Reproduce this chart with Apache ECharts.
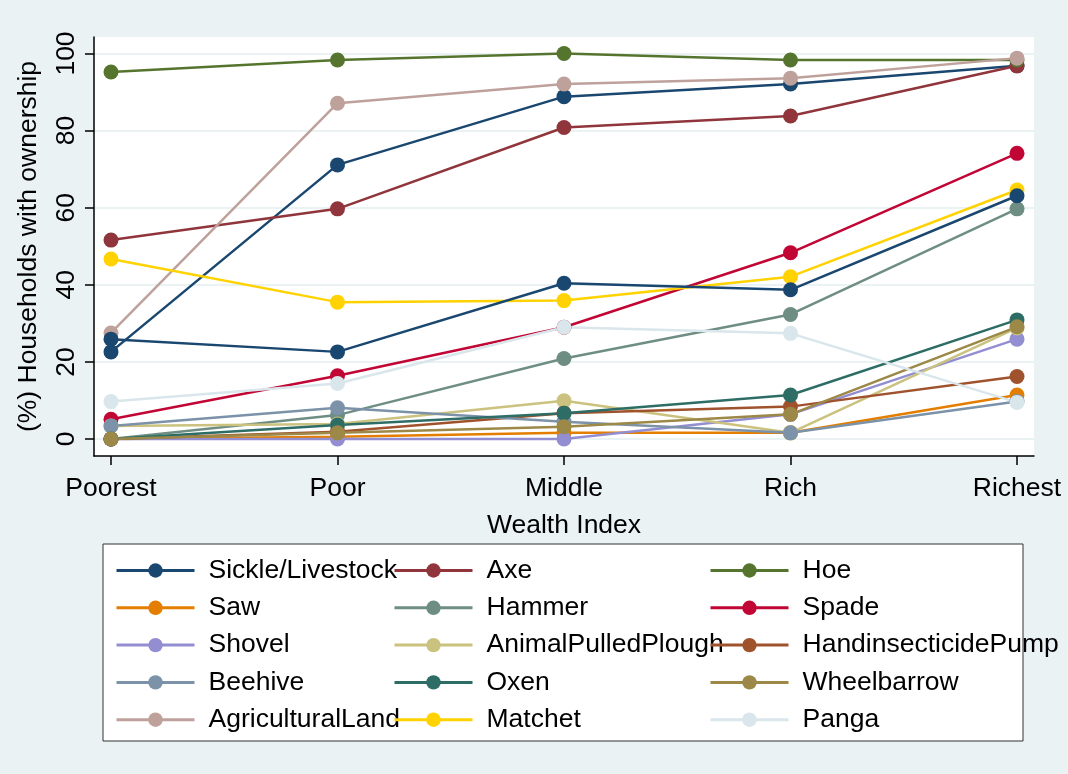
<!DOCTYPE html>
<html>
<head>
<meta charset="utf-8">
<script src="https://cdn.jsdelivr.net/npm/echarts@6/dist/echarts.min.js"></script>
<style>html,body{margin:0;padding:0;background:#fff}#c{width:1068px;height:774px}</style>
</head>
<body>
<div id="c"></div>
<script>
const categories = ['Poorest', 'Poor', 'Middle', 'Rich', 'Richest'];
const yTicks = [0, 20, 40, 60, 80, 100];

const sickle      = [22.6, 71.1, 88.8, 92.1, 96.8];
const axe         = [51.6, 59.7, 80.8, 83.8, 96.8];
const hoe         = [95.2, 98.3, 100.0, 98.3, 98.3];
const saw         = [0.0, 0.6, 1.6, 1.6, 11.4];
const hammer      = [0.0, 6.2, 20.9, 32.3, 59.7];
const spade       = [5.1, 16.4, 29.0, 48.3, 74.1];
const shovel      = [0.0, 0.0, 0.0, 6.4, 25.9];
const plough      = [3.4, 3.9, 9.9, 1.6, 28.8];
const pump        = [0.0, 1.9, 6.7, 8.4, 16.2];
const beehive     = [3.4, 8.1, 4.5, 1.6, 9.7];
const oxen        = [0.0, 3.6, 6.7, 11.4, 30.9];
const wheelbarrow = [0.0, 1.6, 3.2, 6.4, 29.1];
const agland      = [27.5, 87.1, 92.1, 93.6, 98.8];
const matchet     = [46.7, 35.5, 35.9, 42.1, 64.6];
const panga       = [9.7, 14.4, 29.0, 27.4, 9.5];
const livestock   = [25.9, 22.6, 40.4, 38.7, 63.1];

const seriesDefs = [
  ['Sickle/Livestock', sickle, '#1A476F'],
  ['Axe', axe, '#90353B'],
  ['Hoe', hoe, '#55752F'],
  ['Saw', saw, '#E37E00'],
  ['Hammer', hammer, '#6E8E84'],
  ['Spade', spade, '#C10534'],
  ['Shovel', shovel, '#938DD2'],
  ['AnimalPulledPlough', plough, '#CAC27E'],
  ['HandinsecticidePump', pump, '#A0522D'],
  ['Beehive', beehive, '#7B92A8'],
  ['Oxen', oxen, '#2D6D66'],
  ['Wheelbarrow', wheelbarrow, '#9C8847'],
  ['AgriculturalLand', agland, '#BFA19C'],
  ['Matchet', matchet, '#FFD200'],
  ['Panga', panga, '#D9E6EB'],
  ['Sickle/Livestock', livestock, '#1A476F']
];

const legendCols = [
  ['Sickle/Livestock', 'Saw', 'Shovel', 'Beehive', 'AgriculturalLand'],
  ['Axe', 'Hammer', 'AnimalPulledPlough', 'Oxen', 'Matchet'],
  ['Hoe', 'Spade', 'HandinsecticidePump', 'Wheelbarrow', 'Panga']
];
const legendLeft = [115, 393, 709];

const FONT = '"Liberation Sans", Arial, Helvetica, sans-serif';
const FS = 26.5;

const chart = echarts.init(document.getElementById('c'), null, {renderer: 'canvas'});

const series = seriesDefs.map(([name, vals, color]) => ({
  name: name,
  type: 'line',
  data: vals.map((v, i) => [i, v]),
  symbol: 'circle',
  symbolSize: 15,
  lineStyle: {width: 2.5, color: color},
  itemStyle: {color: color},
  emphasis: {disabled: true},
  z: 3
}));

const legends = legendCols.map((names, k) => ({
  orient: 'vertical',
  left: legendLeft[k],
  top: 557,
  padding: 0,
  data: names,
  itemWidth: 78,
  itemHeight: 18,
  itemGap: 10.3,
  selectedMode: false,
  lineStyle: {width: 3},
  textStyle: {fontFamily: FONT, fontSize: FS, color: '#000', lineHeight: 25, padding: [0, 0, 0, 9]}
}));

chart.setOption({
  animation: false,
  backgroundColor: '#EAF2F3',
  textStyle: {fontFamily: FONT},
  graphic: [{
    type: 'rect',
    shape: {x: 103, y: 544, width: 920, height: 197},
    style: {fill: '#fff', stroke: '#333', lineWidth: 1},
    z: -1
  }],
  grid: {
    left: 94, top: 37, right: 34, bottom: 318,
    show: true, backgroundColor: '#fff', borderWidth: 0
  },
  legend: legends,
  xAxis: {
    type: 'value',
    min: -0.075, max: 4.075,
    name: 'Wealth Index',
    nameLocation: 'middle',
    nameGap: 56,
    nameTextStyle: {fontFamily: FONT, fontSize: FS, color: '#000'},
    axisLine: {show: true, onZero: false, lineStyle: {color: '#000', width: 1.5}},
    axisTick: {show: true, length: 9, lineStyle: {color: '#000', width: 1.5}, customValues: [0, 1, 2, 3, 4]},
    axisLabel: {
      customValues: [0, 1, 2, 3, 4],
      formatter: v => categories[Math.round(v)],
      fontFamily: FONT, fontSize: FS, color: '#000', margin: 19
    },
    splitLine: {show: false}
  },
  yAxis: {
    type: 'value',
    min: -4.41, max: 104.28,
    name: '(%) Households with ownership',
    nameLocation: 'middle',
    nameRotate: 90,
    nameGap: 52,
    nameTextStyle: {fontFamily: FONT, fontSize: FS, color: '#000'},
    axisLine: {show: true, onZero: false, lineStyle: {color: '#000', width: 1.5}},
    axisTick: {show: true, length: 9, lineStyle: {color: '#000', width: 1.5}, customValues: yTicks},
    axisLabel: {
      customValues: yTicks,
      rotate: 90,
      fontFamily: FONT, fontSize: FS, color: '#000', margin: 14
    },
    splitLine: {show: true, lineStyle: {color: '#EAF2F3', width: 2}}
  },
  series: series
});
</script>
</body>
</html>
